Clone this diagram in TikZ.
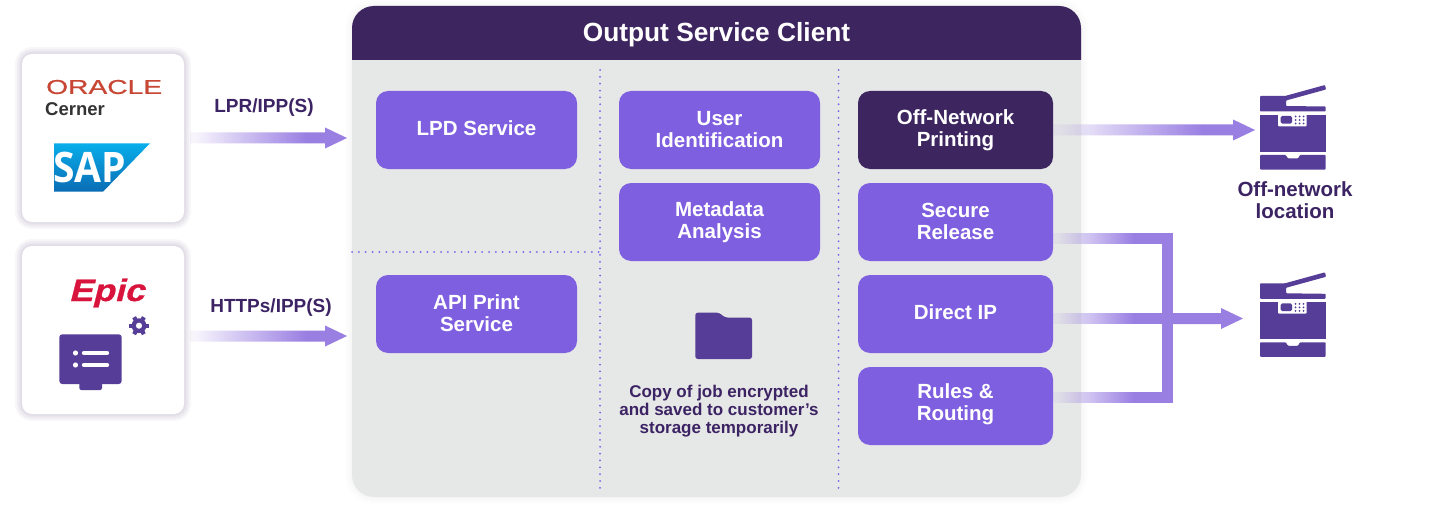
\documentclass[tikz,border=0pt]{standalone}
\usepackage{xcolor}
\usepackage{fontspec}
\setmainfont{Liberation Sans}
\newfontfamily\logofont{Open Sans}
\newfontfamily\oraclefont{Liberation Sans}[FakeBold=0.7]
\newfontfamily\epicfont{Liberation Sans}[UprightFont=* Bold, FakeBold=0.8, FakeSlant=0.22]
\usepackage{tikz}
\usetikzlibrary{calc,positioning,fadings}
\definecolor{panelgray}{HTML}{E6E7E7}
\definecolor{headdark}{HTML}{3D2560}
\definecolor{boxpurple}{HTML}{7E5FE0}
\definecolor{flowpurple}{HTML}{9A7FE3}
\definecolor{iconpurple}{HTML}{563D97}
\definecolor{labeldark}{HTML}{3C2363}
\definecolor{dotpurple}{HTML}{7B5FE8}
\definecolor{oraclered}{HTML}{C74634}
\definecolor{epicred}{HTML}{D9143C}
\definecolor{sapblue}{HTML}{0A6CB4}
\definecolor{saplight}{HTML}{08AEEA}
\definecolor{shadowtint}{HTML}{3D2560}
\pgfdeclarehorizontalshading{flowramp}{100bp}{color(0bp)=(transparent!92); color(27bp)=(transparent!92); color(62bp)=(transparent!0); color(100bp)=(transparent!0)}
\tikzfading[name=flowfade, shading=flowramp]
% tail, then tip: a bar that fades in, with a head
\newcommand{\flowarrow}[2]{\fill[flowpurple, path fading=flowfade, fit fading] let \p1=(#1), \p2=(#2) in
  (\x1,\y1+5.5pt) -- (\x2-22pt,\y1+5.5pt) -- (\x2-22pt,\y1+10.5pt) -- (\x2,\y1) -- (\x2-22pt,\y1-10.5pt) -- (\x2-22pt,\y1-5.5pt) -- (\x1,\y1-5.5pt) -- cycle;}
\newcommand{\flowbar}[2]{\fill[flowpurple, path fading=flowfade, fit fading] let \p1=(#1), \p2=(#2) in
  (\x1,\y1+5.5pt) rectangle (\x2,\y1-5.5pt);}
\newcommand{\flowtip}[2]{\fill[flowpurple] let \p1=(#1), \p2=(#2) in
  (\x1,\y1+5.5pt) -- (\x2-22pt,\y1+5.5pt) -- (\x2-22pt,\y1+10.5pt) -- (\x2,\y1) -- (\x2-22pt,\y1-10.5pt) -- (\x2-22pt,\y1-5.5pt) -- (\x1,\y1-5.5pt) -- cycle;}

\begin{document}
\begin{tikzpicture}[
    x=1pt, y=-1pt,
    nosep/.style={inner sep=0},
    halo/.style={preaction={draw=shadowtint, draw opacity=#1, line width=14pt}, preaction={draw=shadowtint, draw opacity=#1, line width=10pt},
        preaction={draw=shadowtint, draw opacity=#1, line width=6pt}, preaction={draw=shadowtint, draw opacity=#1, line width=3pt}},
    panel/.style={fill=panelgray, rounded corners=22pt, minimum width=729pt, minimum height=491pt, nosep, halo=0.008},
    card/.style={fill=white, rounded corners=10pt, minimum width=162pt, minimum height=168pt, nosep, halo=0.04},
    service/.style={fill=boxpurple, text=white, rounded corners=12pt, minimum height=78pt, nosep, align=center,
        font=\bfseries\fontsize{20.5}{22}\selectfont},
    wide/.style={service, minimum width=201pt},
    narrow/.style={service, minimum width=195pt},
    oneline/.style={text depth=4pt},
    label/.style={text=labeldark, nosep, align=center, font=\bfseries\fontsize{19}{20}\selectfont},
    divider/.style={dotpurple, line width=2pt, line cap=round, dash pattern=on 0pt off 6.85pt},
    printer/.pic={
        \fill[iconpurple, rounded corners=0.8pt] (0,15.5) -- (0,0) -- (25,0) -- (65,-11) -- (66,-6.5) -- (26,4.5) -- (26,10) -- (65.7,10.5) -- (65.7,15.5) -- cycle;
        \fill[iconpurple] (0,18.6) rectangle (65.7,55.7);
        \fill[white, rounded corners=1pt] (18,17) rectangle (46.7,30.3);
        \fill[iconpurple, rounded corners=1.5pt] (20.7,20) rectangle (32,27.7);
        \foreach \i in {35.5,39.5,43.5} \foreach \j in {20.5,24,27.5}
            \fill[iconpurple] (\i,\j) circle (1pt);
        \fill[iconpurple, rounded corners=0.8pt] (0,59) -- (25.7,59) -- (28,62.5) -- (38,62.5) -- (40,59) -- (65.7,59) -- (65.7,73.5) -- (0,73.5) -- cycle;
    }]
\useasboundingbox (0,0) rectangle (1435,508);
\fill[white] (0,0) rectangle (1435,508);

% client panel
\node (clientpanel) [panel] at (716.5,251.5) {};
\fill[headdark] (352,60) {[rounded corners=22pt] -- (352,6) -- (1081,6)} -- (1081,60) -- cycle;
\node (clienttitle) [nosep, text=white, font=\bfseries\fontsize{26.3}{28}\selectfont] at (716.5,35) {Output Service Client};
\draw[divider] (600,70) -- (600,492);
\draw[divider] (838.5,70) -- (838.5,492);
\draw[divider] (352,252) -- (600,252);

% source cards
\node (cardone) [card] at (103,138) {};
\node (cardtwo) [card] at (103,330) {};
\node (oracle) [nosep, anchor=west, text=oraclered, font=\oraclefont\fontsize{20}{20}\selectfont] at (46,87) {\scalebox{1.41}[1]{ORACLE}};
\node (cerner) [nosep, anchor=west, text=black!80, font=\bfseries\fontsize{18.5}{18}\selectfont] at (45,109) {Cerner};
\shade[top color=saplight, bottom color=sapblue] (54,143.3) -- (150,143.3) -- (103,191.7) -- (54,191.7) -- cycle;
\node (sap) [nosep, text=white, font=\logofont\bfseries\fontsize{42}{42}\selectfont] at (89.5,167) {\scalebox{.93}[1]{SAP}};
\node (epic) [nosep, text=epicred, font=\epicfont\fontsize{31}{31}\selectfont] at (106.5,293) {\scalebox{1.15}[1]{Epic}};
\fill[iconpurple, rounded corners=3pt] (59.3,334.3) rectangle (121.7,384);
\fill[iconpurple, rounded corners=2pt] (79.3,378) rectangle (102,390);
\foreach \j in {353,365} {
    \fill[white] (75.5,\j) circle (2.6pt);
    \draw[white, line width=4.4pt, line cap=round] (84,\j) -- (107,\j);
}
\foreach \a in {0,60,...,300}
    \draw[iconpurple, line width=4.2pt] (139,325.7) ++(\a:4) -- ++(\a:5.8);
\fill[iconpurple, even odd rule] (139,325.7) circle (7.4pt) (139,325.7) circle (3.2pt);

% service boxes
\node (lpdbox) [wide, oneline] at (476.5,130) {LPD Service};
\node (apibox) [wide] at (476.5,314) {API Print\\Service\rule[-2pt]{0pt}{0pt}};
\node (userbox) [wide] at (719.5,130) {User\\Identification};
\node (metabox) [wide] at (719.5,222) {Metadata\\Analysis};
\node (offnetbox) [narrow, fill=headdark] at (955.5,130) {Off-Network\\Printing};
\node (securebox) [narrow] at (955.5,222) {Secure\\Release\rule[-2pt]{0pt}{0pt}};
\node (directbox) [narrow, oneline] at (955.5,314) {Direct IP};
\node (rulesbox) [narrow] at (955.5,406) {Rules \&\\Routing\rule[-8pt]{0pt}{0pt}};

\fill[iconpurple, rounded corners=2.5pt] (695.3,359) -- (695.3,312.7) -- (719,312.7) -- (725,317.5) -- (752,317.5) -- (752,359) -- cycle;
\node (jobnote) [nosep, align=center, text=labeldark, font=\bfseries\fontsize{17}{18}\selectfont] at (719,411) {Copy of job encrypted\\and saved to customer’s\\storage temporarily};

% flows
\coordinate (lprtip) at (347,138);
\coordinate (httptip) at (347,336);
\coordinate (offtip) at (1255,130);
\coordinate (rangetip) at (1243,318.5);
\coordinate (secureturn) at (1167,238);
\coordinate (rulesturn) at (1167,397.5);
\coordinate (directturn) at (1161.5,318.5);
\flowarrow{[xshift=6pt]cardone.east}{lprtip}
\flowarrow{[xshift=6pt, yshift=-6pt]cardtwo.east}{httptip}
\node (lprlabel) [label] at (264,108) {LPR/IPP(S)};
\node (httplabel) [label] at (271,308) {HTTPs/IPP(S)};
\flowarrow{offnetbox.east}{offtip}
\flowbar{[yshift=-16pt]securebox.east}{[xshift=-5.4pt]secureturn}
\flowbar{[yshift=8.5pt]rulesbox.east}{[xshift=-5.4pt]rulesturn}
\flowbar{[yshift=-4.5pt]directbox.east}{directturn}
\draw[flowpurple, line width=11pt] ([yshift=5.5pt]secureturn) -- ([yshift=-5.5pt]rulesturn);
\flowtip{directturn}{rangetip}

% printers
\pic (printerone) at (1260,96) {printer};
\pic (printertwo) at (1260,283.3) {printer};
\node (offnetlabel) [label, font=\bfseries\fontsize{20.5}{22}\selectfont] at (1295,200) {Off-network\\location};
\end{tikzpicture}
\end{document}
